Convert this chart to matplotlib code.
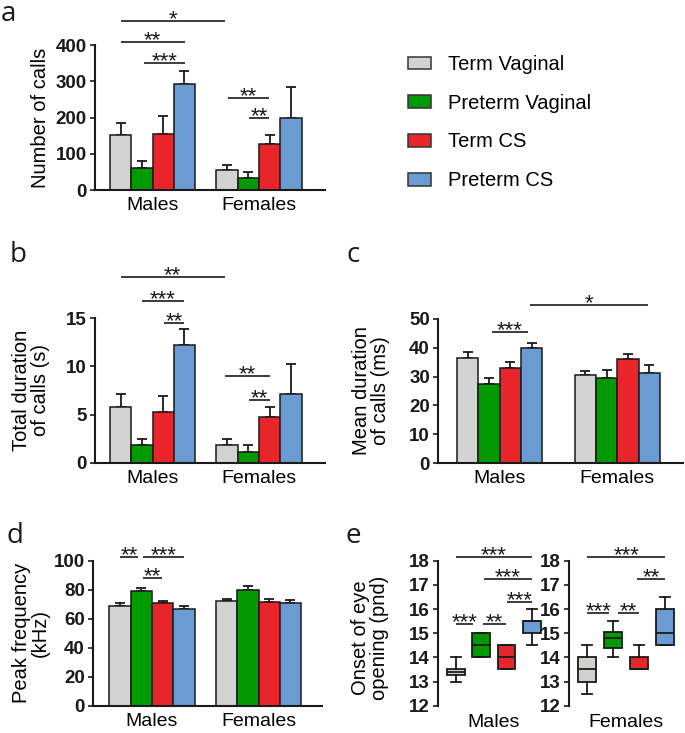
import matplotlib
matplotlib.use("Agg")
import matplotlib.pyplot as plt
from matplotlib.patches import Patch

plt.rcParams['font.family'] = ['Liberation Sans', 'DejaVu Sans']

GROUPS = ["Term Vaginal", "Preterm Vaginal", "Term CS", "Preterm CS"]
SEXES = ["Males", "Females"]
COLORS = ["#d3d3d3", "#009900", "#e8252b", "#6a9bd3"]
BOX_COLORS = ["#d2d0ca", "#009900", "#e8252b", "#6a9bd3"]

# a: number of calls (mean, SEM) -- males then females
calls_mean = [153, 61, 155, 293, 54, 33, 127, 198]
calls_err = [32, 19, 48, 36, 16, 17, 26, 85]
# b: total duration of calls (s)
total_mean = [5.8, 1.85, 5.3, 12.2, 1.85, 1.15, 4.7, 7.1]
total_err = [1.35, 0.65, 1.6, 1.7, 0.65, 0.7, 1.1, 3.2]
# c: mean duration of calls (ms)
meandur_mean = [36.3, 27.5, 33.1, 40.0, 30.4, 29.6, 36.1, 31.2]
meandur_err = [2.2, 1.9, 1.8, 1.7, 1.5, 2.7, 1.6, 2.9]
# d: peak frequency (kHz)
peak_mean = [68.7, 79.3, 70.6, 66.8, 72.4, 79.5, 71.5, 70.8]
peak_err = [1.8, 1.7, 1.9, 1.7, 1.1, 3.0, 1.8, 2.4]

# e: onset of eye opening (pnd), box stats per group
eye_males = {
    "whislo": [13.0, 14.0, 13.5, 14.5],
    "q1": [13.25, 14.0, 13.5, 15.0],
    "med": [13.4, 14.5, 14.0, 15.5],
    "q3": [13.5, 15.0, 14.5, 15.5],
    "whishi": [14.0, 15.0, 14.5, 16.0],
}
eye_females = {
    "whislo": [12.5, 14.0, 13.5, 14.5],
    "q1": [13.0, 14.4, 13.5, 14.5],
    "med": [13.5, 14.8, 13.5, 15.0],
    "q3": [14.0, 15.05, 14.0, 16.0],
    "whishi": [14.5, 15.5, 14.5, 16.5],
}

# significance brackets: (x1, x2, y, stars) in bar-index units
sig_a = [(0, 4.9, 467, "*"), (0, 3.03, 408, "**"), (1.1, 3.03, 350, "***"),
         (5.05, 6.97, 254, "**"), (6.03, 6.97, 199, "**")]
sig_b = [(0, 4.9, 19.3, "**"), (1.0, 2.98, 16.8, "***"), (2.04, 2.98, 14.55, "**"),
         (4.9, 7.0, 9.0, "**"), (6.03, 7.0, 6.5, "**")]
sig_c = [(1.13, 2.84, 45.5, "***"), (2.92, 8.45, 54.7, "*")]
sig_d = [(0, 0.85, 102.8, "**"), (1.1, 3.0, 102.8, "***"), (1.1, 1.95, 88.3, "**")]
sig_e_m = [(0, 3, 18.14, "***"), (1.1, 3, 17.24, "***"), (2.0, 3, 16.28, "***"),
           (0, 0.67, 15.38, "***"), (1.09, 1.96, 15.38, "**")]
sig_e_f = [(0, 3, 18.14, "***"), (1.93, 3, 17.24, "**"),
           (0, 0.85, 15.83, "***"), (1.17, 2.0, 15.83, "**")]

EDGE = "#1a1a1a"
W, H = 685, 733
LABEL_SIZE = 14.5


def rect(left, bottom_px, right, top_px):
    return [left / W, 1 - bottom_px / H, (right - left) / W, (bottom_px - top_px) / H]


def style(ax, bottom=True):
    for s in ["top", "right"]:
        ax.spines[s].set_visible(False)
    ax.spines["left"].set_linewidth(1.5)
    ax.spines["left"].set_color(EDGE)
    if bottom:
        ax.spines["bottom"].set_linewidth(1.5)
        ax.spines["bottom"].set_color(EDGE)
    else:
        ax.spines["bottom"].set_visible(False)
    ax.tick_params(axis="y", direction="out", length=3.8, width=1.2, pad=2,
                   labelsize=13.5, colors=EDGE)
    ax.tick_params(axis="x", length=0, pad=5, labelsize=14)
    for lab in ax.get_yticklabels():
        lab.set_fontweight("bold")


def sig(ax, items):
    for x1, x2, y, txt in items:
        ax.plot([x1, x2], [y, y], color=EDGE, lw=1.2, clip_on=False,
                solid_capstyle="butt")
        ax.annotate(txt, ((x1 + x2) / 2, y), xytext=(0, -3),
                    textcoords="offset points", ha="center", va="baseline",
                    fontsize=16, annotation_clip=False, color=EDGE)


def bars(ax, means, errs, offset, xlim, ylim, yticks, ylabel, label_x):
    xs = [i for i in range(4)] + [i + offset for i in range(4)]
    cols = COLORS + COLORS
    ax.errorbar(xs, means, yerr=[[0] * 8, errs], fmt="none", ecolor=EDGE,
                elinewidth=1.3, capsize=3.5, capthick=1.3, zorder=1)
    ax.bar(xs, means, width=1.0, color=cols, edgecolor=EDGE, linewidth=1.1,
           zorder=2)
    ax.set_xlim(*xlim)
    ax.set_ylim(*ylim)
    ax.set_yticks(yticks)
    ax.set_xticks([1.5, 1.5 + offset])
    ax.set_xticklabels(SEXES)
    ax.set_ylabel(ylabel, fontsize=LABEL_SIZE, va="center", linespacing=1.0)
    ax.yaxis.set_label_coords(label_x, 0.5)
    style(ax)


fig = plt.figure(figsize=(W / 100, H / 100), dpi=100)

ax_a = fig.add_axes(rect(95, 190, 325, 45))
bars(ax_a, calls_mean, calls_err, 5, (-1.2, 9.6), (0, 400), [0, 100, 200, 300, 400],
     "Number of calls", -0.239)
sig(ax_a, sig_a)

ax_b = fig.add_axes(rect(95, 462.7, 325, 318.3))
bars(ax_b, total_mean, total_err, 5, (-1.2, 9.6), (0, 15), [0, 5, 10, 15],
     "Total duration\nof calls (s)", -0.278)
sig(ax_b, sig_b)

ax_c = fig.add_axes(rect(438, 463.3, 683, 318.7))
bars(ax_c, meandur_mean, meandur_err, 5.5, (-1.38, 10.07), (0, 50),
     [0, 10, 20, 30, 40, 50], "Mean duration\nof calls (ms)", -0.273)
sig(ax_c, sig_c)

ax_d = fig.add_axes(rect(93, 705.7, 322, 560.7))
bars(ax_d, peak_mean, peak_err, 5, (-1.27, 9.48), (0, 100),
     [0, 20, 40, 60, 80, 100], "Peak frequency\n(kHz)", -0.27)
sig(ax_d, sig_d)


def boxes(ax, stats, label):
    bstats = []
    for i in range(4):
        bstats.append({k: stats[k][i] for k in stats})
    bp = ax.bxp(bstats, positions=range(4), widths=0.69, patch_artist=True,
                showfliers=False, capwidths=0.38,
                boxprops=dict(edgecolor=EDGE, linewidth=1.3),
                medianprops=dict(color=EDGE, linewidth=1.3),
                whiskerprops=dict(color=EDGE, linewidth=1.3),
                capprops=dict(color=EDGE, linewidth=1.3))
    for patch, c in zip(bp["boxes"], BOX_COLORS):
        patch.set_facecolor(c)
    ax.set_xlim(-0.7, 3.45)
    ax.set_ylim(12, 18)
    ax.set_yticks(range(12, 19))
    ax.set_xticks([1.5])
    ax.set_xticklabels([label])
    style(ax, bottom=False)
    ax.tick_params(axis="x", pad=6)


ax_em = fig.add_axes(rect(438, 705.7, 543.4, 560.7))
boxes(ax_em, eye_males, "Males")
ax_em.set_ylabel("Onset of eye\nopening (pnd)", fontsize=LABEL_SIZE, va="center",
                 linespacing=1.0)
ax_em.yaxis.set_label_coords(-0.645, 0.47)
sig(ax_em, sig_e_m)

ax_ef = fig.add_axes(rect(569, 705.7, 677, 560.7))
boxes(ax_ef, eye_females, "Females")
sig(ax_ef, sig_e_f)

# legend
handles = [Patch(facecolor=c, edgecolor="#333333", linewidth=1.1) for c in COLORS]
fig.legend(handles, GROUPS, loc="upper left", bbox_to_anchor=(408 / W, 1 - 55 / H),
           frameon=False, fontsize=14.5, handlelength=1.15, handleheight=0.6,
           handletextpad=0.85, labelspacing=0.98, borderpad=0, borderaxespad=0)

# panel letters
for letter, x, y in [("a", 1, 21), ("b", 10, 261.7), ("c", 347, 261.7),
                     ("d", 7, 543), ("e", 345, 543)]:
    fig.text(x / W, 1 - y / H, letter, fontsize=20, va="baseline", ha="left",
             family=["Open Sans", "DejaVu Sans"], color=EDGE)

fig.savefig("out.png", dpi=100)
